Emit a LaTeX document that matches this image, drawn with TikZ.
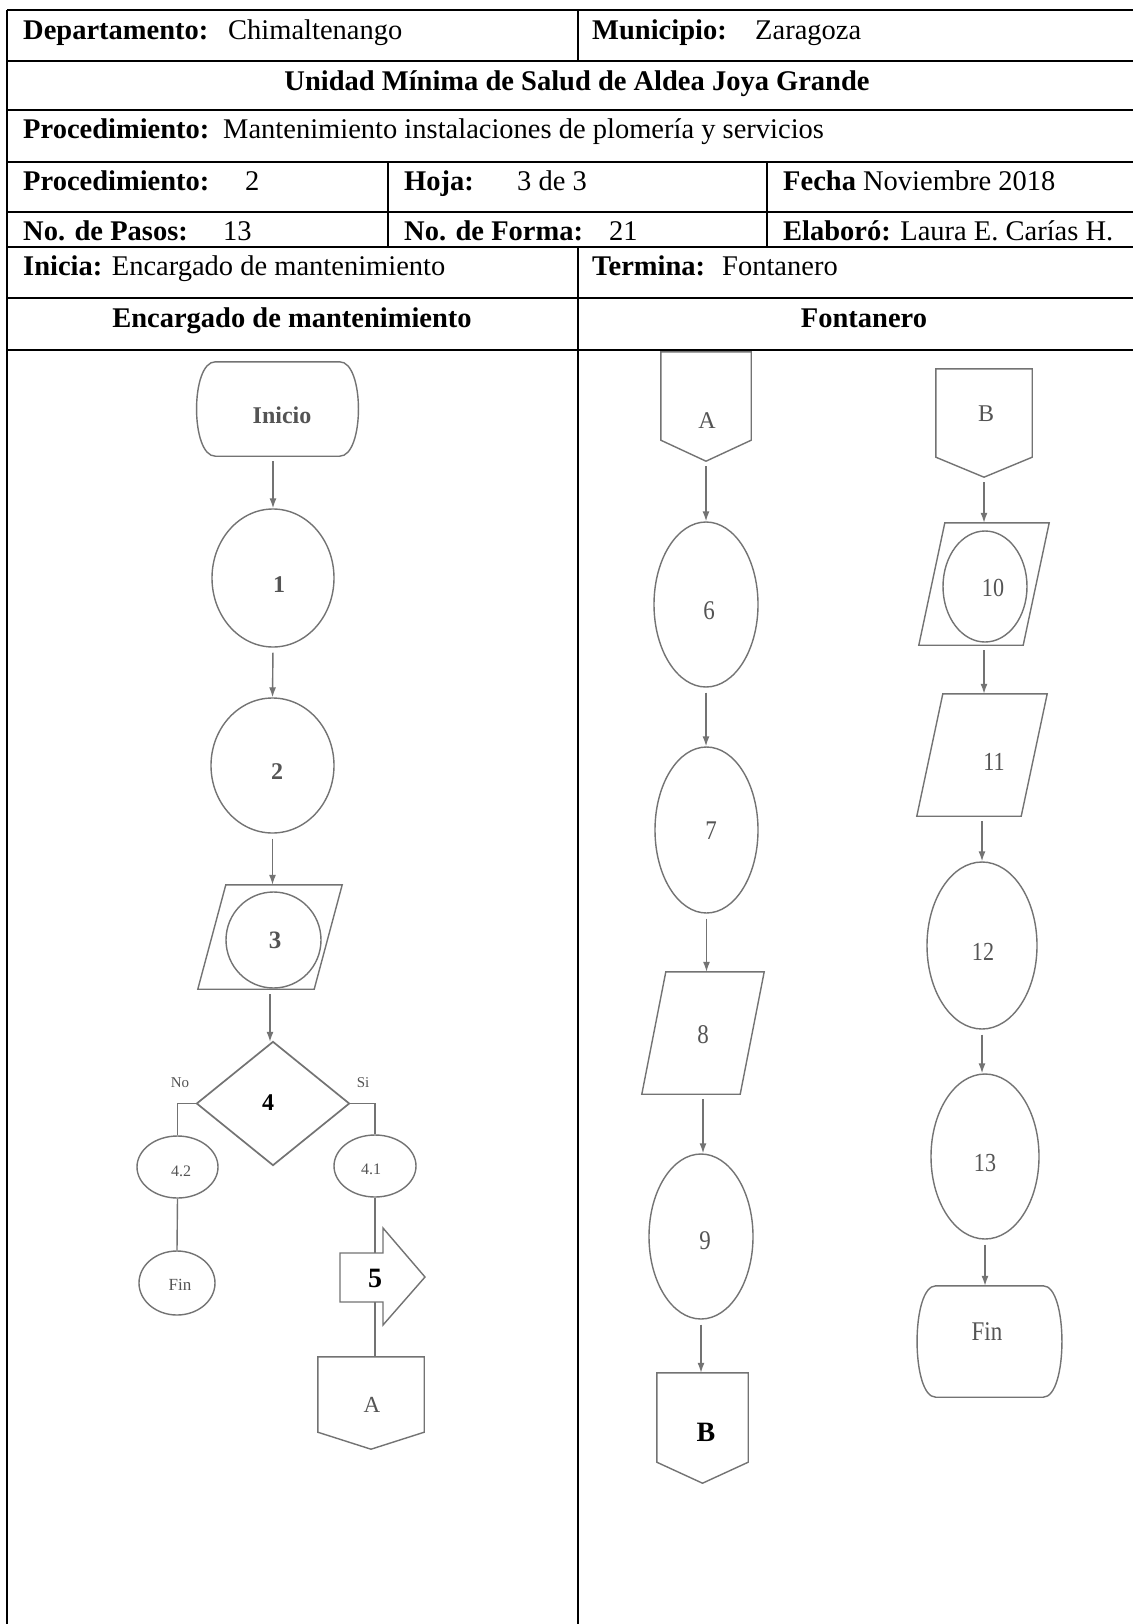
\documentclass[tikz,border=0pt]{standalone}
\usepackage{fontspec}
\setmainfont{Liberation Serif}
\newfontfamily\condf[FakeStretch=0.85]{Liberation Serif}
\usetikzlibrary{shapes.geometric,arrows.meta}
\definecolor{shapegray}{gray}{0.45}
\definecolor{textgray}{gray}{0.33}
\newcommand{\hfs}{\fontsize{28.5}{34}\selectfont}
\newcommand{\myfs}[1]{\fontsize{#1}{#1}\selectfont}
\newcommand{\drawpara}[2]{\draw[shp] ([xshift=#2]#1.north west) -- (#1.north east) -- ([xshift=-#2]#1.south east) -- (#1.south west) -- cycle;}
\newcommand{\drawoff}[2]{\draw[shp] (#1.north west) -- (#1.north east) -- ([yshift=#2]#1.south east) -- (#1.south) -- ([yshift=#2]#1.south west) -- cycle;}
\newcommand{\drawterm}[1]{\draw[shp] ([xshift=19pt]#1.north west) -- ([xshift=-19pt]#1.north east) .. controls ([xshift=6pt]#1.north east) and ([xshift=6pt]#1.south east) .. ([xshift=-19pt]#1.south east) -- ([xshift=19pt]#1.south west) .. controls ([xshift=-6pt]#1.south west) and ([xshift=-6pt]#1.north west) .. cycle;}
\tikzset{
  tline/.style={draw=black, line width=1.8pt},
  shp/.style={draw=shapegray, line width=1.4pt},
  conn/.style={draw=shapegray, line width=1.4pt},
  arr/.style={conn, -{Latex[length=10pt,width=7pt]}, shorten <=5pt},
  hb/.style={anchor=base west, inner sep=0pt, font=\hfs\bfseries},
  hr/.style={anchor=base west, inner sep=0pt, font=\hfs},
  hc/.style={anchor=base, inner sep=0pt, font=\hfs\bfseries},
  frm/.style={rectangle, draw=none, inner sep=0pt},
  ell/.style={ellipse, shp, inner sep=0pt},
  ft/.style={inner sep=0pt, text=textgray},
  fb/.style={inner sep=0pt, text=black},
}
\begin{document}
\begin{tikzpicture}[x=1pt,y=-1pt]
\useasboundingbox[fill=white] (0,0) rectangle (1133,1624);

% ---------- table lines ----------
\foreach \yy in {10,61,110,162,212,247,298,350}
  \draw[tline] (7,\yy) -- (1133,\yy);
\draw[tline] (7,10) -- (7,1624);
\draw[tline] (578,10) -- (578,61);
\draw[tline] (578,247) -- (578,1624);
\draw[tline] (388,162) -- (388,247);
\draw[tline] (767,162) -- (767,247);

% ---------- header texts ----------
\node[hb] (dep) at (23,40) {Departamento:};
\node[hr] (depv) at (228,40) {Chimaltenango};
\node[hb] (mun) at (592,40) {Municipio:};
\node[hr] (munv) at (755,40) {Zaragoza};
\node[hc] (uni) at (577,91) {Unidad Mínima de Salud de Aldea Joya Grande};
\node[hb] (proc) at (23,139) {Procedimiento:};
\node[hr] (procv) at (223,139) {Mantenimiento instalaciones de plomería y servicios};
\node[hb] (proc2) at (23,190) {Procedimiento:};
\node[hr] (proc2v) at (245,190) {2};
\node[hb] (hoja) at (404,190) {Hoja:};
\node[hr] (hojav) at (517,190) {3 de 3};
\node[hr] (fecha) at (783,190) {\textbf{Fecha} Noviembre 2018};
\node[hb] (pasos) at (23,240) {No. de Pasos:};
\node[hr] (pasosv) at (223,240) {13};
\node[hb] (forma) at (404,240) {No. de Forma:};
\node[hr] (formav) at (609,240) {21};
\node[hr] (elab) at (783,240) {\textbf{Elaboró:} Laura E. Carías H.};
\node[hr] (inicia) at (23,275) {\textbf{Inicia:} Encargado de mantenimiento};
\node[hb] (termina) at (592,275) {Termina:};
\node[hr] (terminav) at (722,275) {Fontanero};
\node[hc] (col1) at (292,327) {Encargado de mantenimiento};
\node[hc] (col2) at (864,327) {Fontanero};

% ---------- left lane shapes ----------
\node[frm, minimum width=162pt, minimum height=94pt] (ini) at (277.5,409) {};
\drawterm{ini}
\node[ell, minimum width=122pt, minimum height=138pt] (c1) at (273,578) {};
\node[ell, minimum width=123pt, minimum height=135pt] (c2) at (272.5,765.5) {};
\node[frm, minimum width=144pt, minimum height=104pt] (p3) at (270,937) {};
\drawpara{p3}{28pt}
\node[ell, minimum width=95pt, minimum height=96pt] (c3) at (273.5,940) {};
\node[frm, minimum width=152pt, minimum height=123pt] (d4) at (273,1103.5) {};
\draw[shp, line width=1.7pt] (d4.north) -- (d4.east) -- (d4.south) -- (d4.west) -- cycle;
\node[ell, minimum width=81pt, minimum height=62pt] (e42) at (177.5,1167) {};
\node[ell, minimum width=76pt, minimum height=64pt] (fin1) at (177,1283) {};
\node[ell, minimum width=82pt, minimum height=62pt] (e41) at (375,1166) {};
\draw[shp] (340,1253) -- (383,1253) -- (383,1228) -- (425,1277) -- (383,1325) -- (383,1302) -- (340,1302) -- cycle;
\coordinate (ar5t) at (375,1253);
\coordinate (ar5b) at (375,1302);
\node[frm, minimum width=106pt, minimum height=92pt] (Al) at (371,1403) {};
\drawoff{Al}{17pt}

% ---------- right lane shapes ----------
\node[frm, minimum width=90pt, minimum height=109pt] (Ar) at (706,406.5) {};
\drawoff{Ar}{21pt}
\node[ell, minimum width=104pt, minimum height=165pt] (e6) at (706,604.5) {};
\node[ell, minimum width=103pt, minimum height=166pt] (e7) at (706.5,830) {};
\node[frm, minimum width=122pt, minimum height=122pt] (p8) at (703,1033) {};
\drawpara{p8}{24pt}
\node[ell, minimum width=104pt, minimum height=165pt] (e9) at (701,1236.5) {};
\node[frm, minimum width=91pt, minimum height=110pt] (Bb) at (702.5,1428) {};
\drawoff{Bb}{21pt}

\node[frm, minimum width=96pt, minimum height=108pt] (Bt) at (984,423) {};
\drawoff{Bt}{20pt}
\node[frm, minimum width=130pt, minimum height=122pt] (p10) at (984,584) {};
\drawpara{p10}{26pt}
\node[ell, minimum width=84pt, minimum height=111pt] (e10) at (985,586.5) {};
\node[frm, minimum width=130pt, minimum height=122pt] (p11) at (982,755) {};
\drawpara{p11}{26pt}
\node[ell, minimum width=110pt, minimum height=167pt] (e12) at (982,945.5) {};
\node[ell, minimum width=108pt, minimum height=165pt] (e13) at (985,1156.5) {};
\node[frm, minimum width=145pt, minimum height=111pt] (fin2) at (989.5,1341.5) {};
\drawterm{fin2}

% ---------- connectors ----------
\draw[arr] (ini.south -| c1.north) -- (c1.north);
\draw[arr] (c1.south) -- (c2.north);
\draw[arr] (c2.south) -- (c2.south |- p3.north);
\draw[arr] (p3.south) -- (p3.south |- d4.north);
\draw[conn] (d4.west) -| (e42.north);
\draw[conn] (d4.east) -| (e41.north);
\draw[conn] (e42.south) -- (fin1.north);
\draw[conn] (e41.south) -- (ar5t);
\draw[conn] (ar5b) -- (ar5b |- Al.north);

\draw[arr] (Ar.south) -- (Ar.south |- e6.north);
\draw[arr] (e6.south) -- (e6.south |- e7.north);
\draw[arr] (e7.south) -- (e7.south |- p8.north);
\draw[arr] (p8.south) -- (p8.south |- e9.north);
\draw[arr] (e9.south) -- (e9.south |- Bb.north);
\draw[arr] (Bt.south) -- (Bt.south |- p10.north);
\draw[arr] (p10.south) -- (p10.south |- p11.north);
\draw[arr] (p11.south) -- (p11.south |- e12.north);
\draw[arr] (e12.south) -- (e12.south |- e13.north);
\draw[arr] (e13.south) -- (e13.south |- fin2.north);

% ---------- flow texts ----------
\node[ft, font=\myfs{24}\bfseries] (tini) at (282,415) {Inicio};
\node[ft, font=\myfs{24}\bfseries] (t1) at (279,585) {1};
\node[ft, font=\myfs{24}\bfseries] (t2) at (277,772) {2};
\node[ft, font=\myfs{25}\bfseries] (t3) at (275,940) {3};
\node[fb, font=\myfs{24}\bfseries] (t4) at (268,1103) {4};
\node[ft, font=\myfs{15}] (tno) at (180,1083) {No};
\node[ft, font=\myfs{15}] (tsi) at (363,1083) {Si};
\node[ft, font=\myfs{16}] (t42) at (181,1171) {4.2};
\node[ft, font=\myfs{16}] (t41) at (371,1169) {4.1};
\node[ft, font=\myfs{17}] (tfin1) at (180,1285) {Fin};
\node[fb, font=\myfs{28}\bfseries] (t5) at (375,1278) {5};
\node[ft, font=\myfs{23}] (tAl) at (372,1405) {A};

\node[ft, font=\myfs{24}] (tAr) at (707,421) {A};
\node[ft, font=\condf\myfs{27}] (t6) at (709,611) {6};
\node[ft, font=\condf\myfs{27}] (t7) at (711,831) {7};
\node[ft, font=\condf\myfs{27}] (t8) at (703,1035) {8};
\node[ft, font=\condf\myfs{27}] (t9) at (705,1241) {9};
\node[fb, font=\myfs{28}\bfseries] (tBb) at (706,1432) {B};
\node[ft, font=\myfs{24}] (tBt) at (986,414) {B};
\node[ft, font=\condf\myfs{26}] (t10) at (993,588) {10};
\node[ft, font=\condf\myfs{26}] (t11) at (994,762) {11};
\node[ft, font=\condf\myfs{26}] (t12) at (983,952) {12};
\node[ft, font=\condf\myfs{26}] (t13) at (985,1163) {13};
\node[ft, font=\condf\myfs{27}] (tfin2) at (987,1332) {Fin};
\end{tikzpicture}
\end{document}
